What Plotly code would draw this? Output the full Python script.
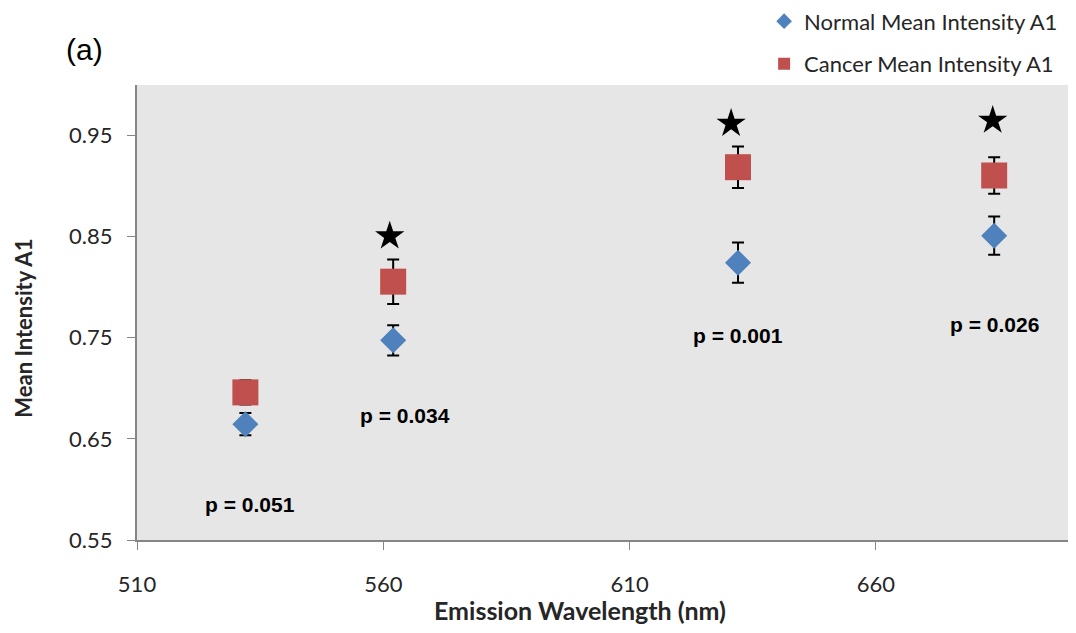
import plotly.graph_objects as go

wavelength = [532, 562, 632, 684]
normal_mean = [0.6645, 0.7475, 0.8243, 0.851]
normal_err = [0.011, 0.015, 0.020, 0.019]
cancer_mean = [0.696, 0.8055, 0.9187, 0.9105]
cancer_err = [0.012, 0.022, 0.0205, 0.018]

star_x = [561.3, 630.6, 683.7]
star_y = [0.8506, 0.962, 0.965]

p_labels = ["p = 0.051", "p = 0.034", "p = 0.001", "p = 0.026"]
p_x = [533, 564.5, 632, 684]
p_y = [0.5856, 0.6735, 0.7525, 0.7633]

y_ticks = [0.55, 0.65, 0.75, 0.85, 0.95]
x_ticks = [510, 560, 610, 660]

BLUE = "#4F81BD"
RED = "#C0504D"
FONT = "Lato"
TXT = "#262626"

fig = go.Figure()

fig.add_trace(go.Scatter(
    x=wavelength, y=normal_mean, mode="markers",
    name="Normal Mean Intensity A1", legendgroup="a",
    marker=dict(symbol="diamond", size=20, color=BLUE),
    error_y=dict(type="data", array=normal_err, color="black", thickness=2, width=6),
))
fig.add_trace(go.Scatter(
    x=wavelength, y=cancer_mean, mode="markers",
    name="Cancer Mean Intensity A1", legendgroup="b",
    marker=dict(symbol="square", size=26, color=RED),
    error_y=dict(type="data", array=cancer_err, color="black", thickness=2, width=6),
))
fig.add_trace(go.Scatter(
    x=star_x, y=star_y, mode="markers", showlegend=False,
    marker=dict(symbol="star", size=22, color="black"),
))

for t, x, y in zip(p_labels, p_x, p_y):
    fig.add_annotation(x=x, y=y, text="<b>" + t + "</b>", showarrow=False,
                       font=dict(family="Liberation Sans, Arial", size=21, color="black"))

fig.add_annotation(xref="paper", yref="paper", x=-0.078, y=1.037, text="(a)",
                   showarrow=False, xanchor="left", yanchor="bottom",
                   font=dict(family="Liberation Sans, Arial", size=30, color="black"))

# axis titles
fig.add_annotation(xref="paper", yref="paper", x=0.473, y=-0.154, text="<b>Emission Wavelength (nm)</b>",
                   showarrow=False, xanchor="center", yanchor="middle",
                   font=dict(family=FONT, size=25, color=TXT))
fig.add_annotation(xref="paper", yref="paper", x=-0.121, y=0.466, text="<b>Mean Intensity A1</b>",
                   showarrow=False, xanchor="center", yanchor="middle", textangle=-90,
                   font=dict(family=FONT, size=22, color=TXT))

# page body has an 8px margin, so the figure is sized to fill the 1076x633 window from there
fig.update_layout(
    width=1068, height=625,
    margin=dict(l=129, r=3, t=77, b=93, autoexpand=False),
    paper_bgcolor="white", plot_bgcolor="#E6E6E6",
    font=dict(family=FONT, size=22, color=TXT),
    legend=dict(x=0.67, y=1.186, xanchor="left", yanchor="top",
                traceorder="grouped", tracegroupgap=11,
                font=dict(family=FONT, size=22, color=TXT),
                bgcolor="rgba(0,0,0,0)", itemsizing="constant", itemwidth=30),
    xaxis=dict(range=[510, 700], tickvals=x_ticks, showgrid=False, zeroline=False,
               showline=True, linecolor="#868686", linewidth=2,
               ticks="outside", ticklen=8, tickcolor="#868686", ticklabelstandoff=16),
    yaxis=dict(range=[0.55, 1.0], tickvals=y_ticks, tickformat=".2f", showgrid=False, zeroline=False,
               showline=True, linecolor="#868686", linewidth=2,
               ticks="outside", ticklen=8, tickcolor="#868686", ticklabelstandoff=10),
)

fig.write_html("out.html")
